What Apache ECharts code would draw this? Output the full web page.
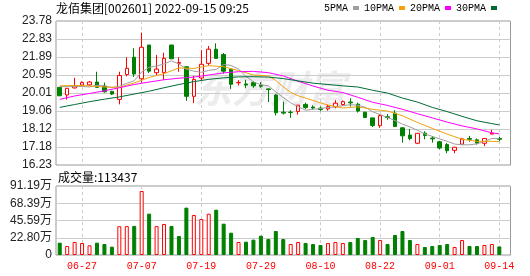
<!DOCTYPE html>
<html><head><meta charset="utf-8">
<script src="https://cdn.jsdelivr.net/npm/echarts@6/dist/echarts.min.js"></script>
<style>html,body{margin:0;padding:0;background:#fff}#c{width:530px;height:276px}</style>
</head><body><div id="c"></div>
<script>
const titleText = '龙佰集团[002601] 2022-09-15 09:25';
const volLabelPrefix = '成交量:';
const watermarkText = '东方财富';
const dates = ['06-22','06-23','06-24','06-27','06-28','06-29','06-30','07-01','07-04','07-05','07-06','07-07','07-08','07-11','07-12','07-13','07-14','07-15','07-18','07-19','07-20','07-21','07-22','07-25','07-26','07-27','07-28','07-29','08-01','08-02','08-03','08-04','08-05','08-08','08-09','08-10','08-11','08-12','08-15','08-16','08-17','08-18','08-19','08-22','08-23','08-24','08-25','08-26','08-29','08-30','08-31','09-01','09-02','09-05','09-06','09-07','09-08','09-09','09-13','09-14'];
const opens = [20.30,19.90,20.27,20.42,20.43,20.58,20.37,20.09,19.67,20.97, 21.88,20.75,22.52,21.07,21.07,22.52,21.56,21.38,19.83,20.79, 21.56,22.30,22.02,21.25,20.54,20.48,20.55,20.42,20.22,19.90, 19.00,19.00,19.04,19.41,19.27,19.21,19.17,19.28,19.40,19.53, 19.42,19.00,18.70,18.29,18.76,18.95,18.18,17.80,17.37,17.90, 17.64,17.45,17.30,17.00,17.32,17.62,17.55,17.37,17.85,17.62];
const closes = [19.86,20.25,20.37,20.55,20.58,20.30,20.07,19.95,20.92,21.30, 21.00,22.40,21.15,21.26,21.82,21.80,21.60,19.83,20.72,21.51, 22.30,21.82,21.15,20.46,20.56,20.42,20.38,20.36,20.19,18.97, 18.95,18.98,19.37,19.24,19.22,19.14,19.30,19.47,19.55,19.49, 19.06,18.72,18.30,18.82,18.72,18.25,17.76,17.62,17.89,17.78, 17.60,17.12,16.98,17.16,17.60,17.58,17.38,17.62,17.90,17.58];
const lows = [19.84,19.66,20.25,20.38,20.37,20.28,20.02,19.90,19.41,20.88, 20.85,20.55,21.05,20.90,20.70,21.78,21.12,19.59,19.47,20.67, 21.45,21.80,21.02,20.22,20.40,20.25,20.28,20.28,19.53,18.82, 18.88,18.70,18.87,19.16,19.14,19.05,19.08,19.20,19.33,19.29, 18.98,18.70,18.22,18.18,18.60,18.22,17.40,17.52,17.32,17.58, 17.40,17.05,16.85,16.85,17.28,17.45,17.30,17.22,17.84,17.48];
const highs = [20.32,20.27,20.80,20.62,20.63,21.12,20.55,20.12,21.12,21.88, 22.35,23.17,22.52,22.00,22.12,22.52,21.88,21.38,20.90,22.25, 22.47,22.61,22.10,21.28,20.68,20.70,20.62,20.58,20.24,19.95, 19.55,19.10,19.38,19.50,19.36,19.30,19.40,19.63,19.62,19.73, 19.50,19.02,18.72,18.90,18.90,19.10,18.20,18.12,17.90,18.00, 17.75,17.50,17.38,17.18,17.65,17.75,17.62,17.63,18.08,17.70];
const volumes = [163000,119000,172000,159000,128000,163000,145000,110000,380000,382000, 385000,846000,546000,381000,410000,384000,251000,626000,529000,476000, 546000,599000,414000,295000,172000,176000,203000,255000,211000,317000, 211000,145000,172000,159000,145000,132000,159000,172000,159000,172000, 225000,198000,238000,198000,145000,264000,317000,198000,145000,106000, 119000,132000,145000,106000,198000,119000,119000,132000,145000,113437];
const ma5 = [20.34,20.34,20.34,20.35,20.32,20.41,20.37,20.29,20.36,20.51, 20.65,21.11,21.35,21.42,21.53,21.69,21.53,21.26,21.15,21.09, 21.19,21.24,21.50,21.45,21.26,20.88,20.59,20.44,20.38,20.06, 19.77,19.49,19.29,19.10,19.15,19.19,19.25,19.27,19.34,19.39, 19.37,19.26,19.02,18.88,18.72,18.56,18.37,18.23,18.05,17.86, 17.73,17.60,17.47,17.33,17.29,17.29,17.34,17.47,17.62,17.61];
const ma10 = [20.38,null,20.40,null,20.38,null,20.32,null,20.30,20.42, 20.53,null,20.82,null,21.02,null,21.32,null,21.29,null, 21.44,null,21.38,null,21.18,null,20.95,null,20.90,20.66, 20.33,20.04,19.86,19.74,19.61,null,19.37,null,19.22,null, 19.28,null,19.15,null,19.06,null,18.81,null,18.46,null, 18.15,null,17.85,null,17.58,null,17.47,null,17.47,17.45];
const ma20 = [19.67,null,19.85,null,19.98,null,20.12,null,20.28,null, 20.45,null,20.58,null,20.70,null,20.78,null,20.84,null, 20.95,null,21.06,null,21.12,null,21.14,null,21.07,null, 20.90,null,20.62,null,20.37,null,20.15,null,20.03,null, 19.78,null,19.52,null,19.35,null,19.15,null,18.92,null, 18.70,null,18.48,null,18.28,null,18.12,null,17.92,17.86];
const ma30 = [19.25,null,19.40,null,19.55,null,19.68,null,19.80,null, 19.95,null,20.10,null,20.28,null,20.45,null,20.60,null, 20.72,null,20.80,null,20.85,null,20.86,null,20.84,null, 20.76,null,20.64,null,20.52,null,20.45,null,20.38,null, 20.32,null,20.15,null,20.00,null,19.74,null,19.53,null, 19.25,null,19.03,null,18.78,null,18.55,null,18.40,18.33];
const priceTicks = ['16.23','17.18','18.12','19.06','20.01','20.95','21.89','22.83','23.78'];
const volTicks = ['0','22.80万','45.59万','68.39万','91.19万'];
const maNames = ['5PMA','10PMA','20PMA','30PMA'];
const maColors = ['#9e9e9e','#f3a20b','#ff00ff','#006c35'];

const UP = '#ff0000', DOWN = '#008000';
const priceMin = parseFloat(priceTicks[0]);
const priceMax = parseFloat(priceTicks[priceTicks.length - 1]);
const priceStep = (priceMax - priceMin) / (priceTicks.length - 1);
const volMax = parseFloat(volTicks[volTicks.length - 1]) * 10000;
const volStep = volMax / (volTicks.length - 1);
const cats = dates.concat(['']);
const showIdx = (i) => i < dates.length && i % 8 === 3;

const candleData = dates.map((d, i) => [opens[i], closes[i], lows[i], highs[i]]);
const volData = volumes.map((v, i) => {
  const up = i === 0 ? closes[i] >= opens[i] : closes[i] >= closes[i - 1];
  return { value: v, itemStyle: up ? { color: '#ffffff', borderColor: UP, borderWidth: 1 } : { color: DOWN, borderColor: DOWN, borderWidth: 1 } };
});
const maData = [ma5, ma10, ma20, ma30];

const chart = echarts.init(document.getElementById('c'), null, { renderer: 'canvas' });
const FONT_CJK = "'Noto Sans CJK SC', sans-serif";
const FONT_NUM = "'Liberation Sans', Arial, 'Noto Sans CJK SC', sans-serif";
const FONT_MONO = "'Liberation Mono', 'DejaVu Sans Mono', monospace";

const xAxisCommon = (gi, showLabel) => ({
  type: 'category', gridIndex: gi, data: cats, boundaryGap: true,
  axisLine: { show: false }, axisTick: { show: false, alignWithLabel: true, interval: (i) => showIdx(i) },
  axisLabel: { show: showLabel, interval: (i) => showIdx(i), color: UP, fontSize: 10, fontFamily: FONT_MONO, margin: 6 },
  splitLine: { show: true, alignWithLabel: true, interval: (i) => showIdx(i), lineStyle: { color: '#cccccc', type: [3, 3], width: 1 } }
});

chart.setOption({
  animation: false,
  backgroundColor: '#ffffff',
  title: [
    { text: titleText, left: 56, top: 2, padding: 0, textStyle: { fontSize: 12, fontWeight: 'normal', color: '#000', fontFamily: FONT_CJK } },
    { text: volLabelPrefix + volumes[volumes.length - 1], left: 58, top: 171, padding: 0, textStyle: { fontSize: 12, fontWeight: 'normal', color: '#000', fontFamily: FONT_CJK } }
  ],
  legend: {
    data: maNames, right: 33, top: 3, padding: 0, align: 'right', icon: 'rect', itemWidth: 6, itemHeight: 4, itemGap: 5,
    textStyle: { fontSize: 10, fontFamily: FONT_MONO, color: '#000' }
  },
  graphic: [
    { type: 'text', left: 194, top: 70, z: -1, silent: true,
      style: { text: watermarkText, fontSize: 38, fontWeight: 'bold', fontStyle: 'italic', fontFamily: FONT_CJK, fill: 'rgba(120,120,135,0.14)' } }
  ],
  grid: [
    { left: 56, top: 21, width: 454.5, height: 144, show: true, borderColor: '#999', borderWidth: 1 },
    { left: 56, top: 186, width: 454.5, height: 69, show: true, borderColor: '#999', borderWidth: 1 }
  ],
  xAxis: [xAxisCommon(0, false), xAxisCommon(1, true)],
  yAxis: [
    { type: 'value', gridIndex: 0, min: priceMin, max: priceMax, interval: priceStep, scale: true,
      axisLine: { show: false }, axisTick: { show: false },
      axisLabel: { formatter: (v) => priceTicks[Math.round((v - priceMin) / priceStep)], fontSize: 12, color: '#222', fontFamily: FONT_NUM, margin: 4 },
      splitLine: { lineStyle: { color: '#cccccc', width: 1 } } },
    { type: 'value', gridIndex: 1, min: 0, max: volMax, interval: volStep,
      axisLine: { show: false }, axisTick: { show: false },
      axisLabel: { formatter: (v) => volTicks[Math.round(v / volStep)], fontSize: 12, color: '#222', fontFamily: FONT_NUM, margin: 4 },
      splitLine: { lineStyle: { color: '#cccccc', width: 1 } } }
  ],
  series: [
    { type: 'candlestick', xAxisIndex: 0, yAxisIndex: 0, data: candleData, barWidth: 4,
      itemStyle: { color: '#ffffff', color0: DOWN, borderColor: UP, borderColor0: DOWN, borderWidth: 1 } },
    ...maNames.map((n, k) => ({
      name: n, type: 'line', xAxisIndex: 0, yAxisIndex: 0, data: maData[k], connectNulls: true,
      symbol: 'none', color: maColors[k], lineStyle: { width: 1, color: maColors[k] }
    })),
    { type: 'bar', xAxisIndex: 1, yAxisIndex: 1, data: volData, barWidth: 4 }
  ]
});
</script></body></html>
